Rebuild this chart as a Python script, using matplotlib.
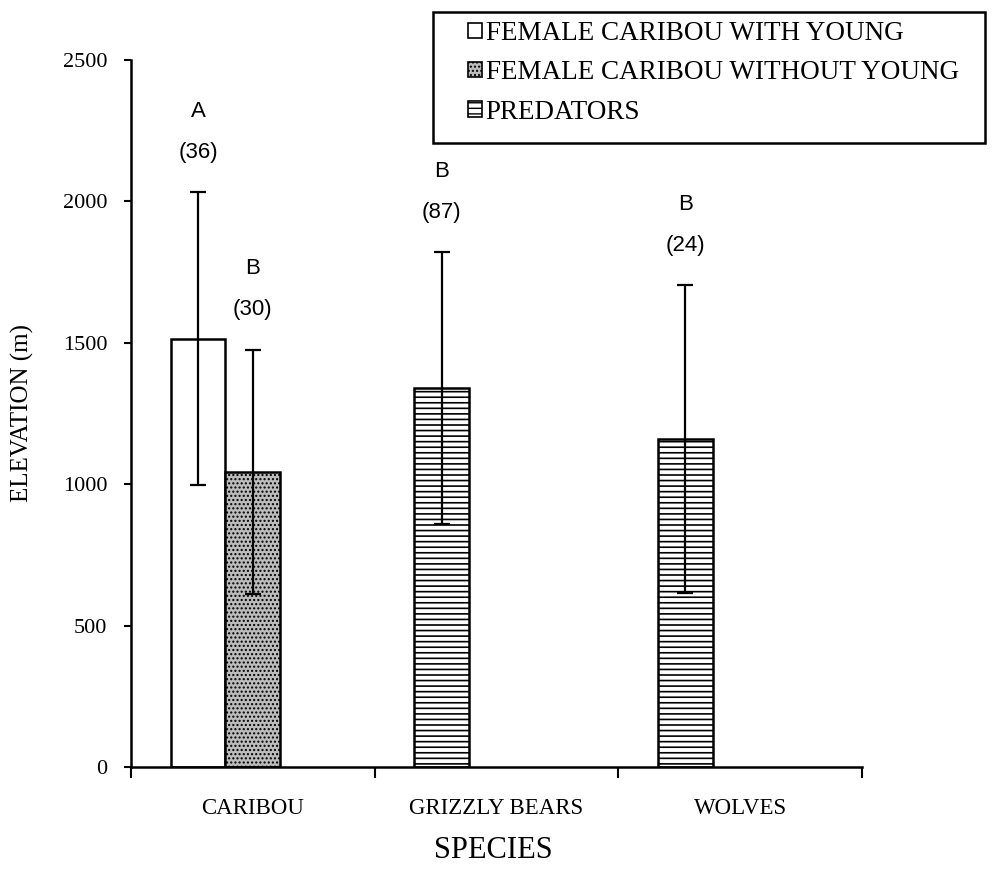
import matplotlib
matplotlib.use("Agg")
import matplotlib.pyplot as plt
import numpy as np
from matplotlib.patches import Patch, Rectangle

# ---- data ----
categories = ["CARIBOU", "GRIZZLY BEARS", "WOLVES"]
series_names = ["FEMALE CARIBOU WITH YOUNG", "FEMALE CARIBOU WITHOUT YOUNG", "PREDATORS"]
# (category index, slot, series index)
bar_category = [0, 0, 1, 2]
bar_slot = [0, 1, 0, 0]
bar_series = [0, 1, 2, 2]
bar_means = [1515, 1043, 1340, 1160]
bar_errors = [518, 432, 480, 543]
letters = ["A", "B", "B", "B"]
sample_sizes = ["(36)", "(30)", "(87)", "(24)"]
y_ticks = [0, 500, 1000, 1500, 2000, 2500]

W, H = 995, 875
fig = plt.figure(figsize=(W / 100, H / 100), dpi=100)
ax = fig.add_axes([131 / W, 1 - 767 / H, (862 - 131) / W, (767 - 60) / H])

serif = ["Liberation Serif", "DejaVu Serif"]
sans = ["Liberation Sans", "DejaVu Sans"]

styles = [
    dict(facecolor="white", hatch=None, hlw=1.0),
    dict(facecolor="#bcbcbc", hatch="....", hlw=1.0),
    dict(facecolor="white", hatch="---", hlw=1.2),
]
slot_offset = [-0.225, 0.0]
width = 0.225

for ci, sl, si, m, e in zip(bar_category, bar_slot, bar_series, bar_means, bar_errors):
    x = ci + 0.5 + slot_offset[sl]
    st = styles[si]
    with plt.rc_context({"hatch.linewidth": st["hlw"], "hatch.color": "#333333"}):
        ax.bar(x, m, width=width, facecolor=st["facecolor"], hatch=st["hatch"],
               edgecolor="black", linewidth=1.8, zorder=2)
    ax.errorbar(x, m, yerr=e, fmt="none", ecolor="black", elinewidth=1.6,
                capsize=6, capthick=1.6, zorder=3)

# annotations
for ci, sl, m, e, lt, n in zip(bar_category, bar_slot, bar_means, bar_errors, letters, sample_sizes):
    x = ci + 0.5 + slot_offset[sl]
    top = m + e
    ax.annotate(n, (x, top), xytext=(0, 40), textcoords="offset pixels",
                ha="center", va="center", fontsize=16, family=sans)
    ax.annotate(lt, (x, top), xytext=(0, 81), textcoords="offset pixels",
                ha="center", va="center", fontsize=16, family=sans)

ax.set_xlim(0, 3)
ax.set_ylim(0, 2500)
ax.set_yticks(y_ticks)
ax.set_yticklabels([str(v) for v in y_ticks], family=serif, fontsize=16)
ax.set_xticks([0, 1, 2, 3])
ax.set_xticklabels([])
ax.set_xticks([0.5, 1.5, 2.5], minor=True)
ax.set_xticklabels(categories, minor=True, family=serif, fontsize=16.5)
ax.tick_params(axis="x", which="major", direction="out", length=8, width=1.5)
ax.tick_params(axis="x", which="minor", length=0, pad=22)
ax.tick_params(axis="y", direction="out", length=5, width=1.5, pad=12)
for s in ["top", "right"]:
    ax.spines[s].set_visible(False)
for s in ["left", "bottom"]:
    ax.spines[s].set_linewidth(1.8)

fig.text(22 / W, 1 - 413 / H, "ELEVATION (m)", rotation=90, ha="center", va="center",
         family=serif, fontsize=18)
fig.text(493 / W, 1 - 850 / H, "SPECIES", ha="center", va="center",
         family=serif, fontsize=22)

# legend frame
fig.patches.append(Rectangle((433 / W, 1 - 143 / H), (985 - 433) / W, (143 - 12) / H,
                             transform=fig.transFigure, facecolor="white",
                             edgecolor="black", linewidth=1.8, zorder=0))
handles = []
for st in styles:
    with plt.rc_context({"hatch.linewidth": st["hlw"], "hatch.color": "#333333"}):
        handles.append(Patch(facecolor=st["facecolor"], hatch=st["hatch"],
                             edgecolor="black", linewidth=1.2))
leg = fig.legend(handles, series_names, loc="upper left",
                 bbox_to_anchor=(468 / W, 1 - 21 / H),
                 prop={"family": serif, "size": 19.5},
                 handlelength=0.5, handleheight=0.5, handletextpad=0.15,
                 labelspacing=0.53, borderpad=0, borderaxespad=0,
                 frameon=False)

fig.savefig("out.png", dpi=100)
